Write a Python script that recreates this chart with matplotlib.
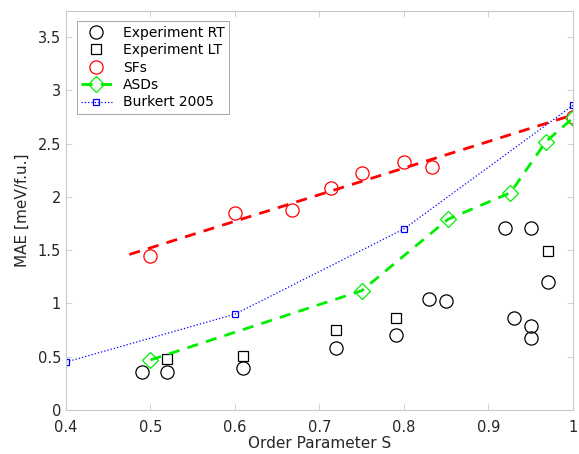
import matplotlib.pyplot as plt

# Experiment RT
rt_s = [0.49, 0.52, 0.61, 0.72, 0.79, 0.83, 0.85, 0.92, 0.95, 0.97, 0.93, 0.95, 0.95]
rt_mae = [0.36, 0.36, 0.39, 0.58, 0.70, 1.04, 1.02, 1.71, 1.71, 1.20, 0.86, 0.79, 0.68]

# Experiment LT
lt_s = [0.52, 0.61, 0.72, 0.79, 0.97]
lt_mae = [0.48, 0.51, 0.75, 0.86, 1.49]

# SFs
sf_s = [0.5, 0.6, 0.667, 0.714, 0.75, 0.8, 0.833, 1.0]
sf_mae = [1.45, 1.85, 1.88, 2.08, 2.22, 2.33, 2.28, 2.75]

# linear fit through SFs (end points)
fit_s = [0.475, 1.0]
fit_mae = [1.46, 2.77]

# ASDs
asd_s = [0.5, 0.75, 0.852, 0.926, 0.968, 1.0]
asd_mae = [0.47, 1.12, 1.79, 2.04, 2.52, 2.74]

# Burkert 2005
bk_s = [0.4, 0.6, 0.8, 1.0]
bk_mae = [0.45, 0.90, 1.70, 2.86]

fig = plt.figure(figsize=(5.79, 4.54), dpi=100)
ax = fig.add_axes([66 / 579, 44 / 454, 507 / 579, 399.5 / 454])

ax.plot(rt_s, rt_mae, 'o', mfc='none', mec='black', ms=9.5, mew=0.9, label='Experiment RT')
ax.plot(lt_s, lt_mae, 's', mfc='none', mec='black', ms=7, mew=0.9, label='Experiment LT')
ax.plot(sf_s, sf_mae, 'o', mfc='none', mec='red', ms=9.5, mew=0.9, label='SFs')
ax.plot(fit_s, fit_mae, '--', color='red', lw=2, dashes=(4, 3))
ax.plot(asd_s, asd_mae, '--', color='#00ee00', lw=2, dashes=(4, 3), marker='D',
        mfc='none', mec='#00ee00', ms=8, mew=0.9, label='ASDs')
ax.plot(bk_s, bk_mae, ':', color='blue', lw=0.9, marker='s', mfc='none', mec='blue',
        ms=5, mew=0.9, label='Burkert 2005')

ax.set_xlim(0.4, 1.0)
ax.set_ylim(0, 3.75)
ax.set_xticks([0.4, 0.5, 0.6, 0.7, 0.8, 0.9, 1.0])
ax.set_xticklabels(['0.4', '0.5', '0.6', '0.7', '0.8', '0.9', '1'])
ax.set_yticks([0, 0.5, 1, 1.5, 2, 2.5, 3, 3.5])
ax.set_yticklabels(['0', '0.5', '1', '1.5', '2', '2.5', '3', '3.5'])
ax.tick_params(direction='in', top=True, right=True, labelsize=10.5,
               colors='#262626', length=4, width=0.6)
ax.tick_params(axis='x', pad=7)
for sp in ax.spines.values():
    sp.set_color('#c8c8c8')
    sp.set_linewidth(0.8)
ax.tick_params(color='#c8c8c8')

ax.set_xlabel('Order Parameter S', fontsize=11, color='#262626', labelpad=1)
ax.set_ylabel('MAE [meV/f.u.]', fontsize=11, color='#262626', labelpad=6)

leg = ax.legend(loc='upper left', bbox_to_anchor=(0.008, 0.99), fontsize=10,
                fancybox=False, edgecolor='#999999', framealpha=1,
                handlelength=2.2, borderpad=0.3, labelspacing=0.25, handletextpad=0.8)
leg.get_frame().set_linewidth(0.6)

plt.savefig('out.png', dpi=100)
